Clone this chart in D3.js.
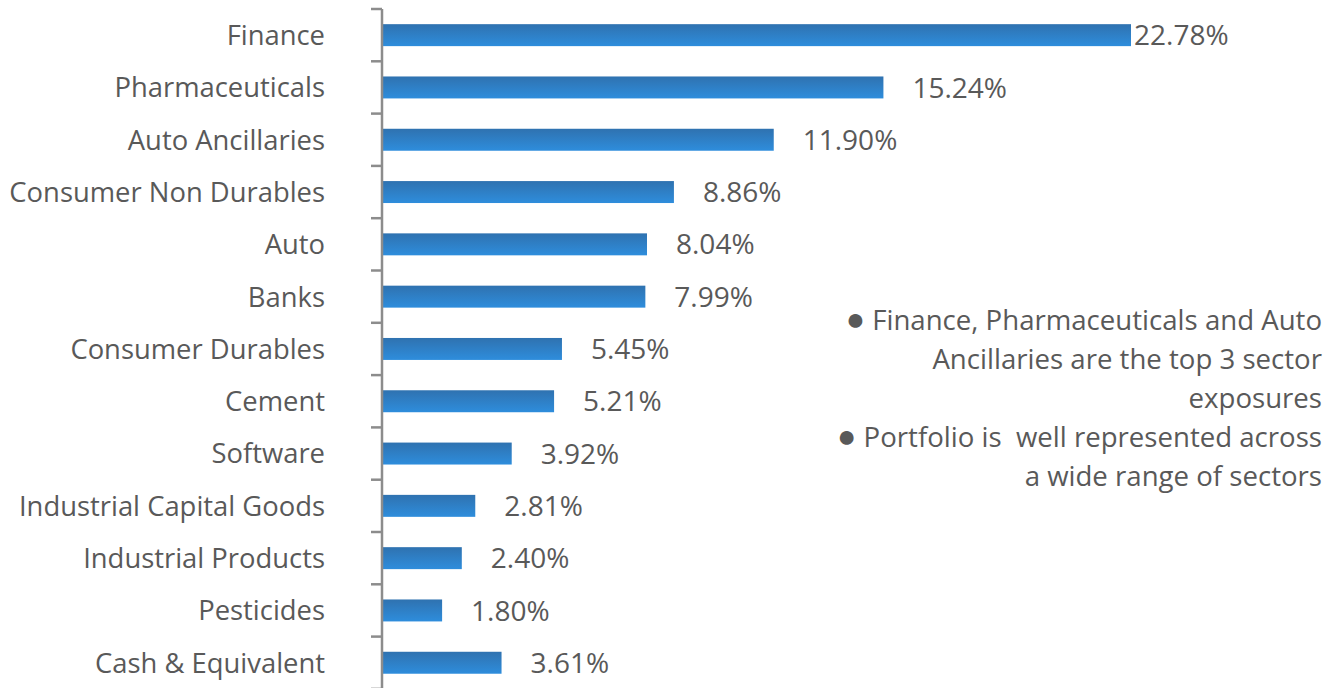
<!DOCTYPE html>
<html>
<head>
<meta charset="utf-8">
<script src="https://cdn.jsdelivr.net/npm/d3@7"></script>
<style>
  body { margin: 0; background: #fff; }
  svg { display: block; font-family: 'Open Sans', sans-serif; }
  text.note { white-space: pre; }
</style>
</head>
<body>
<svg width="1336" height="688"></svg>
<script>
// sector allocation
const sectors = [
  'Finance', 'Pharmaceuticals', 'Auto Ancillaries', 'Consumer Non Durables',
  'Auto', 'Banks', 'Consumer Durables', 'Cement', 'Software',
  'Industrial Capital Goods', 'Industrial Products', 'Pesticides', 'Cash & Equivalent'
];
const weights = [22.78, 15.24, 11.90, 8.86, 8.04, 7.99, 5.45, 5.21, 3.92, 2.81, 2.40, 1.80, 3.61];
const notes = [
  ['Finance, Pharmaceuticals and Auto', 'Ancillaries are the top 3 sector', 'exposures'],
  ['Portfolio is  well represented across', 'a wide range of sectors']
];

const data = sectors.map((s, i) => ({ sector: s, value: weights[i] }));

const margin = { top: 9, left: 382 };
const bandH = 52.3;
const height = bandH * sectors.length;

const svg = d3.select('svg');

const defs = svg.append('defs');
const grad = defs.append('linearGradient')
  .attr('id', 'barGrad')
  .attr('x1', 0).attr('y1', 0).attr('x2', 0).attr('y2', 1);
grad.append('stop').attr('offset', '0%').attr('stop-color', '#2f72b0');
grad.append('stop').attr('offset', '100%').attr('stop-color', '#2e8ddc');

const g = svg.append('g')
  .attr('transform', 'translate(' + margin.left + ',' + margin.top + ')');

// 22.78% -> ~748px
const x = d3.scaleLinear().domain([0, 22.78]).range([0, 748]);
const y = d3.scaleBand().domain(sectors).range([0, height]).paddingInner(0.58).paddingOuter(0.29);

// bars
g.selectAll('rect.bar')
  .data(data)
  .enter().append('rect')
    .attr('class', 'bar')
    .attr('x', 1)
    .attr('y', d => y(d.sector))
    .attr('width', d => x(d.value))
    .attr('height', y.bandwidth())
    .attr('fill', 'url(#barGrad)');

// axis with ticks between categories
const axis = g.append('g').attr('class', 'y axis');
axis.append('line')
  .attr('x1', 0).attr('x2', 0)
  .attr('y1', 0).attr('y2', height)
  .attr('stroke', '#8c8c8c').attr('stroke-width', 2.5);
axis.selectAll('line.tick')
  .data(d3.range(sectors.length + 1))
  .enter().append('line')
    .attr('class', 'tick')
    .attr('x1', -11).attr('x2', 0)
    .attr('y1', i => i * bandH).attr('y2', i => i * bandH)
    .attr('stroke', '#8c8c8c').attr('stroke-width', 2.5);

// category labels
g.selectAll('text.cat')
  .data(data)
  .enter().append('text')
    .attr('class', 'cat')
    .attr('x', -57)
    .attr('y', d => y(d.sector) + y.bandwidth() / 2)
    .attr('dy', '0.36em')
    .attr('text-anchor', 'end')
    .attr('fill', '#595959')
    .style('font-size', '27.4px')
    .text(d => d.sector);

// value labels
g.selectAll('text.val')
  .data(data)
  .enter().append('text')
    .attr('class', 'val')
    .attr('x', d => Math.min(x(d.value) + 30, 752))
    .attr('y', d => y(d.sector) + y.bandwidth() / 2)
    .attr('dy', '0.36em')
    .attr('fill', '#595959')
    .style('font-size', '28px')
    .text(d => d.value.toFixed(2) + '%');

// notes on the right, first line of each note gets a bullet
const lines = [];
notes.forEach(n => n.forEach((t, j) => lines.push({ text: t, bullet: j === 0 })));
const note = svg.selectAll('text.note')
  .data(lines)
  .enter().append('text')
    .attr('class', 'note')
    .attr('x', 1322)
    .attr('y', (d, i) => 330 + i * 39)
    .attr('text-anchor', 'end')
    .attr('fill', '#595959')
    .style('font-size', '27.6px');
note.filter(d => d.bullet).append('tspan')
  .style('font-size', '32px')
  .text('\u25CF');
note.append('tspan')
  .text(d => (d.bullet ? ' ' : '') + d.text);
</script>
</body>
</html>
